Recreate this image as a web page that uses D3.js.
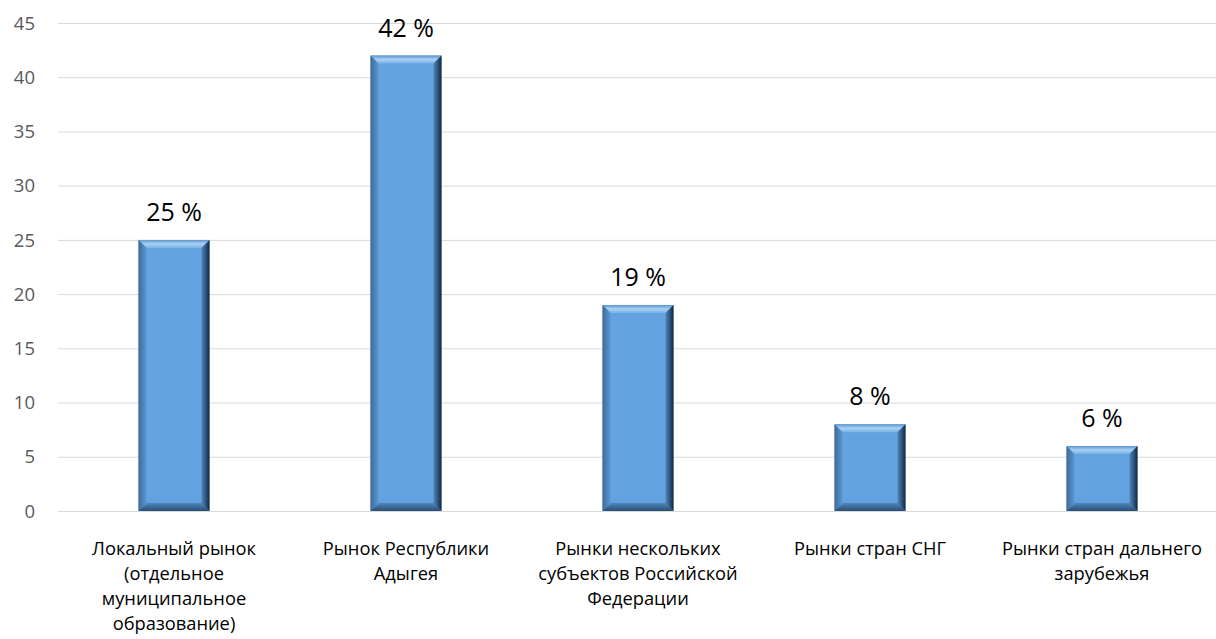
<!DOCTYPE html>
<html><head><meta charset="utf-8">
<script src="https://cdn.jsdelivr.net/npm/d3@7"></script>
<style>body{margin:0;background:#fff;}svg{display:block;font-family:"Open Sans",Lato,sans-serif;}</style>
</head><body>
<script>
const categories = [
  ["Локальный рынок","(отдельное","муниципальное","образование)"],
  ["Рынок Республики","Адыгея"],
  ["Рынки нескольких","субъектов Российской","Федерации"],
  ["Рынки стран СНГ"],
  ["Рынки стран дальнего","зарубежья"]
];
const values = [25, 42, 19, 8, 6];
const valueLabels = ["25 %","42 %","19 %","8 %","6 %"];
const yTicks = [0,5,10,15,20,25,30,35,40,45];

const W=1216,H=639;
const svg=d3.select("body").append("svg").attr("width",W).attr("height",H);
const x=d3.scaleBand().domain(d3.range(values.length)).range([58,1218]).paddingInner(0.694).paddingOuter(0.347);
const y=d3.scaleLinear().domain([0,45]).range([511,23]);

svg.append("g").selectAll("line").data(yTicks).join("line")
  .attr("x1",58).attr("x2",1216).attr("y1",d=>y(d)+0.5).attr("y2",d=>y(d)+0.5)
  .attr("stroke","#d9d9d9").attr("stroke-width",1);

svg.append("g").selectAll("text").data(yTicks).join("text")
  .attr("x",35).attr("y",d=>y(d)).attr("dy","0.36em").attr("text-anchor","end")
  .attr("font-size",18.5).attr("fill","#595959").text(d=>d);

const defs=svg.append("defs");
function lg(id,x1,y1,x2,y2,stops){const g=defs.append("linearGradient").attr("id",id).attr("x1",x1).attr("y1",y1).attr("x2",x2).attr("y2",y2);stops.forEach(s=>g.append("stop").attr("offset",s[0]).attr("stop-color",s[1]));}
lg("gTop",0,0,0,1,[[0,"#5a95cf"],[0.5,"#a9d0f3"],[1,"#78b2e8"]]);
lg("gBot",0,0,0,1,[[0,"#4f86bd"],[1,"#2a4d72"]]);
lg("gLeft",0,0,1,0,[[0,"#3d6a98"],[1,"#5b97d2"]]);
lg("gRight",0,0,1,0,[[0,"#4f86bd"],[0.6,"#2b4f75"],[1,"#13263a"]]);

const b=8;
const bars=svg.append("g").selectAll("g").data(values).join("g");
bars.each(function(v,i){
  const g=d3.select(this);
  const x0=x(i),x1=x(i)+x.bandwidth(),y0=y(v),y1=y(0);
  g.append("rect").attr("x",x0).attr("y",y0).attr("width",x1-x0).attr("height",y1-y0).attr("fill","#62a2e0");
  const bb=Math.min(b,(y1-y0)/2);
  g.append("polygon").attr("points",[[x0,y0],[x1,y0],[x1-b,y0+bb],[x0+b,y0+bb]].join(" ")).attr("fill","url(#gTop)");
  g.append("polygon").attr("points",[[x0,y1],[x1,y1],[x1-b,y1-bb],[x0+b,y1-bb]].join(" ")).attr("fill","url(#gBot)");
  g.append("polygon").attr("points",[[x0,y0],[x0+b,y0+bb],[x0+b,y1-bb],[x0,y1]].join(" ")).attr("fill","url(#gLeft)");
  g.append("polygon").attr("points",[[x1,y0],[x1-b,y0+bb],[x1-b,y1-bb],[x1,y1]].join(" ")).attr("fill","url(#gRight)");
});

svg.append("g").selectAll("text").data(values).join("text")
  .attr("x",(d,i)=>x(i)+x.bandwidth()/2).attr("y",d=>y(d)-19)
  .attr("text-anchor","middle").attr("font-size",25).attr("fill","#000").text((d,i)=>valueLabels[i]);

const cg=svg.append("g").selectAll("g").data(categories).join("g");
cg.each(function(lines,i){
  d3.select(this).selectAll("text").data(lines).join("text")
    .attr("x",x(i)+x.bandwidth()/2).attr("y",(d,j)=>555+j*25)
    .attr("text-anchor","middle").attr("font-size",18.3).attr("fill","#000").text(d=>d);
});
</script>
</body></html>
